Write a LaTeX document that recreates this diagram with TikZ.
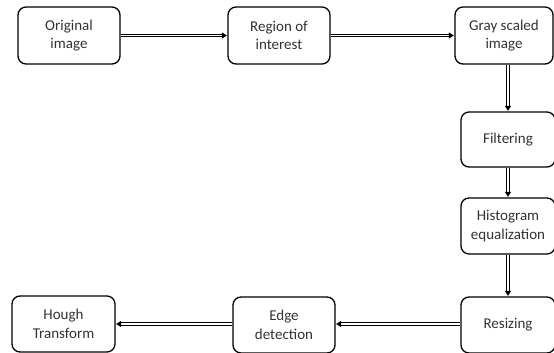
\documentclass[tikz,border=0pt]{standalone}
\usepackage{fontspec}
\setmainfont{Carlito}
\usetikzlibrary{arrows.meta}
\definecolor{txt}{HTML}{333333}
\begin{document}
\begin{tikzpicture}[x=1pt,y=-1pt,
  blk/.style={draw=black, line width=1.3pt, rounded corners=8pt, align=center,
    font=\fontsize{15}{18.5}\selectfont, text=txt, inner sep=0pt, fill=white},
  conn/.style={double=white, double distance=1.3pt, line width=1.1pt,
    -{Triangle[length=5pt,width=6pt]}, shorten >=0.5pt}]
\useasboundingbox (0,0) rectangle (554,353);
\clip (0,0) rectangle (554,353);
\node[blk, minimum width=102pt, minimum height=57pt] (orig) at (69,35.5) {Original\\image};
\node[blk, minimum width=102pt, minimum height=57pt] (roi) at (279,35.5) {Region of\\interest};
\node[blk, minimum width=98pt, minimum height=57pt] (gray) at (504,35.5) {Gray scaled\\image};
\node[blk, minimum width=94pt, minimum height=55pt] (filt) at (508,139.5) {Filtering};
\node[blk, minimum width=94pt, minimum height=56pt] (hist) at (508,226) {Histogram\\equalization};
\node[blk, minimum width=94pt, minimum height=56pt] (resz) at (508,325) {Resizing};
\node[blk, minimum width=102pt, minimum height=56pt] (edge) at (284,325) {Edge\\detection};
\node[blk, minimum width=103pt, minimum height=56pt] (hough) at (63.5,324) {Hough\\Transform};
\draw[conn] (orig) -- (roi);
\draw[conn] (roi) -- (gray);
\draw[conn] (filt.north |- gray.south) -- (filt.north);
\draw[conn] (filt) -- (hist);
\draw[conn] (hist) -- (resz);
\draw[conn] (resz.west |- 0,324) -- (edge.east |- 0,324);
\draw[conn] (edge.west |- 0,324) -- (hough.east |- 0,324);
\end{tikzpicture}
\end{document}
